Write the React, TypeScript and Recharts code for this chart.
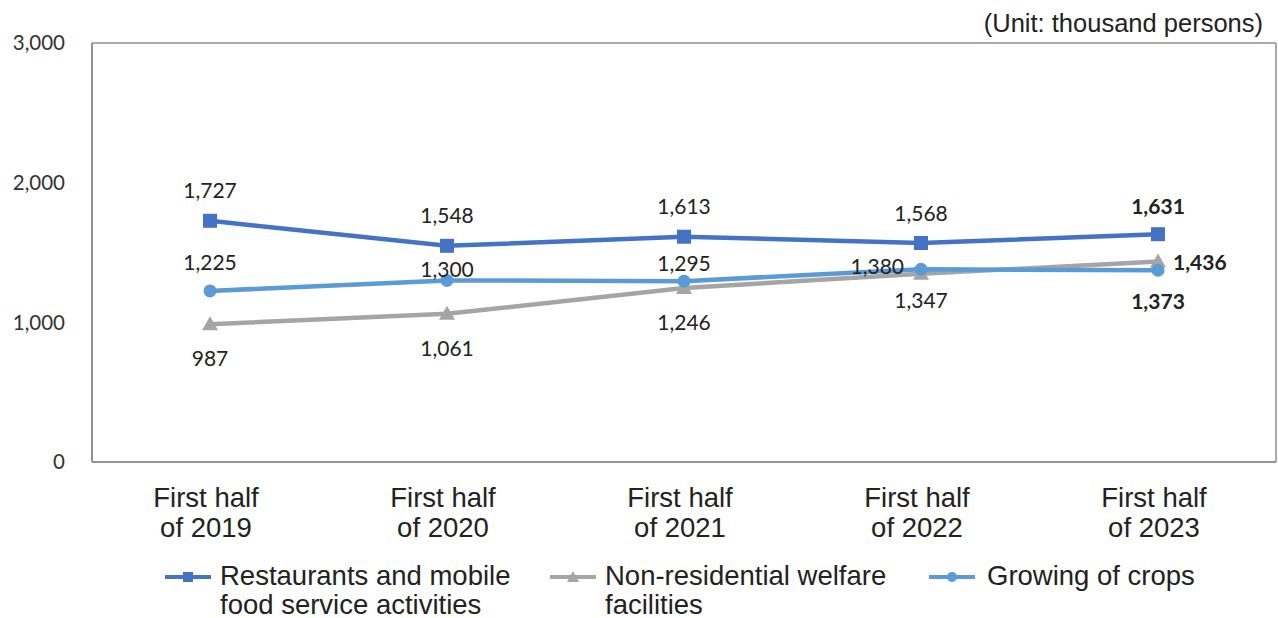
import React from 'react';
import { LineChart, Line, XAxis, YAxis, LabelList, CartesianGrid } from 'recharts';

// periods on the x axis (two lines each)
const periods = ['First half|of 2019', 'First half|of 2020', 'First half|of 2021', 'First half|of 2022', 'First half|of 2023'];

// thousand persons
const restaurants = [1727, 1548, 1613, 1568, 1631];
const welfare = [987, 1061, 1246, 1347, 1436];
const crops = [1225, 1300, 1295, 1380, 1373];

const yTicks = [0, 1000, 2000, 3000];

const seriesNames = {
  restaurants: 'Restaurants and mobile|food service activities',
  welfare: 'Non-residential welfare|facilities',
  crops: 'Growing of crops',
};

const COLORS = {
  restaurants: '#4472C4',
  welfare: '#A5A5A5',
  crops: '#5B9BD5',
};

// where each data label sits relative to its point
const restaurantLabelPos = [
  { side: 'top', gap: 31 },
  { side: 'top', gap: 31 },
  { side: 'top', gap: 31 },
  { side: 'top', gap: 31 },
  { side: 'top', gap: 29 },
];
const welfareLabelPos = [
  { side: 'bottom', gap: 33 },
  { side: 'bottom', gap: 34 },
  { side: 'bottom', gap: 34 },
  { side: 'bottom', gap: 26 },
  { side: 'right', gap: 15 },
];
const cropLabelPos = [
  { side: 'top', gap: 29 },
  { side: 'top', gap: 12 },
  { side: 'top', gap: 19 },
  { side: 'left', gap: 17 },
  { side: 'bottom', gap: 30 },
];

const data = periods.map((p, i) => ({
  period: p,
  restaurants: restaurants[i],
  welfare: welfare[i],
  crops: crops[i],
}));

const LABEL_FONT = 'Lato, "Open Sans", sans-serif';
const TEXT_FONT = '"Liberation Sans", Arial, sans-serif';
const BORDER = '#8c8c8c';

const makeLabel = (positions: { side: string; gap: number }[]) => (props: any) => {
  const { x, y, value, index } = props;
  const pos = positions[index];
  let tx = x;
  let ty = y;
  let anchor: 'middle' | 'start' | 'end' = 'middle';
  if (pos.side === 'top') ty = y - pos.gap;
  if (pos.side === 'bottom') ty = y + pos.gap;
  if (pos.side === 'right') {
    tx = x + pos.gap;
    anchor = 'start';
  }
  if (pos.side === 'left') {
    tx = x - pos.gap;
    ty = y - 4;
    anchor = 'end';
  }
  const bold = index === periods.length - 1;
  return (
    <text
      x={tx}
      y={ty}
      textAnchor={anchor}
      dominantBaseline="central"
      fontFamily={LABEL_FONT}
      fontSize={21}
      fontWeight={bold ? 700 : 400}
      fill="#222"
    >
      {Number(value).toLocaleString('en-US')}
    </text>
  );
};

const SquareDot = (props: any) => {
  const { cx, cy, index } = props;
  return <rect key={`sq-${index}`} x={cx - 7} y={cy - 7} width={14} height={14} fill={COLORS.restaurants} />;
};

const TriangleDot = (props: any) => {
  const { cx, cy, index } = props;
  return (
    <polygon
      key={`tr-${index}`}
      points={`${cx},${cy - 8} ${cx + 8},${cy + 6} ${cx - 8},${cy + 6}`}
      fill={COLORS.welfare}
    />
  );
};

const CircleDot = (props: any) => {
  const { cx, cy, index } = props;
  return <circle key={`ci-${index}`} cx={cx} cy={cy} r={6.5} fill={COLORS.crops} />;
};

const PeriodTick = (props: any) => {
  const { x, y, payload } = props;
  const [l1, l2] = String(payload.value).split('|');
  return (
    <text x={x - 4} y={y} textAnchor="middle" fontFamily={TEXT_FONT} fontSize={27.5} fill="#222">
      <tspan x={x - 4} dy={45}>{l1}</tspan>
      <tspan x={x - 4} dy={30}>{l2}</tspan>
    </text>
  );
};

const legendItems = [
  { key: 'restaurants', x: 165, textX: 220, marker: 'square' },
  { key: 'welfare', x: 550, textX: 605, marker: 'triangle' },
  { key: 'crops', x: 929, textX: 987, marker: 'circle' },
] as const;

function LegendIcon({ color, marker }: { color: string; marker: string }) {
  return (
    <svg width={46} height={14} style={{ display: 'block' }}>
      <line x1={0} y1={7} x2={46} y2={7} stroke={color} strokeWidth={4} />
      {marker === 'square' && <rect x={18} y={2} width={10} height={10} fill={color} />}
      {marker === 'triangle' && <polygon points="23,1 29,12 17,12" fill={color} />}
      {marker === 'circle' && <circle cx={23} cy={7} r={5} fill={color} />}
    </svg>
  );
}

export default function App() {
  return (
    <div style={{ position: 'absolute', left: 0, top: 0, width: 1278, height: 618, background: '#fff' }}>
      <div
        style={{
          position: 'absolute',
          right: 15,
          top: 9,
          fontFamily: TEXT_FONT,
          fontSize: 25.5,
          lineHeight: '29px',
          color: '#222',
        }}
      >
        (Unit: thousand persons)
      </div>

      <LineChart width={1278} height={618} data={data} margin={{ top: 43, right: 2, bottom: 0, left: 0 }}>
        <CartesianGrid
          stroke={BORDER}
          strokeWidth={1.5}
          fill="none"
          horizontalCoordinatesGenerator={({ offset }: any) => [offset.top, offset.top + offset.height]}
          verticalCoordinatesGenerator={({ offset }: any) => [offset.left, offset.left + offset.width]}
        />
        <XAxis
          dataKey="period"
          height={156}
          padding={{ left: 118, right: 118 }}
          tick={<PeriodTick />}
          tickLine={false}
          tickSize={0}
          tickMargin={0}
          axisLine={{ stroke: BORDER, strokeWidth: 1.5 }}
          interval={0}
        />
        <YAxis
          width={92}
          domain={[0, 3000]}
          ticks={yTicks}
          tickFormatter={(v: number) => v.toLocaleString('en-US')}
          tick={{ fontFamily: LABEL_FONT, fontSize: 20.5, fill: '#333' }}
          tickLine={false}
          tickSize={0}
          tickMargin={27}
          axisLine={{ stroke: BORDER, strokeWidth: 1.5 }}
        />

        <Line
          dataKey="restaurants"
          stroke={COLORS.restaurants}
          strokeWidth={4.5}
          dot={SquareDot}
          activeDot={false}
          isAnimationActive={false}
        >
          <LabelList dataKey="restaurants" content={makeLabel(restaurantLabelPos)} />
        </Line>
        <Line
          dataKey="welfare"
          stroke={COLORS.welfare}
          strokeWidth={4.5}
          dot={TriangleDot}
          activeDot={false}
          isAnimationActive={false}
        >
          <LabelList dataKey="welfare" content={makeLabel(welfareLabelPos)} />
        </Line>
        <Line
          dataKey="crops"
          stroke={COLORS.crops}
          strokeWidth={4.5}
          dot={CircleDot}
          activeDot={false}
          isAnimationActive={false}
        >
          <LabelList dataKey="crops" content={makeLabel(cropLabelPos)} />
        </Line>
      </LineChart>

      {legendItems.map((item) => {
        const lines = seriesNames[item.key].split('|');
        return (
          <React.Fragment key={item.key}>
            <div style={{ position: 'absolute', left: item.x, top: 570 }}>
              <LegendIcon color={COLORS[item.key]} marker={item.marker} />
            </div>
            <div
              style={{
                position: 'absolute',
                left: item.textX,
                top: 561,
                fontFamily: TEXT_FONT,
                fontSize: 27.5,
                lineHeight: '29px',
                color: '#222',
                whiteSpace: 'nowrap',
              }}
            >
              {lines.map((l) => (
                <div key={l}>{l}</div>
              ))}
            </div>
          </React.Fragment>
        );
      })}
    </div>
  );
}
